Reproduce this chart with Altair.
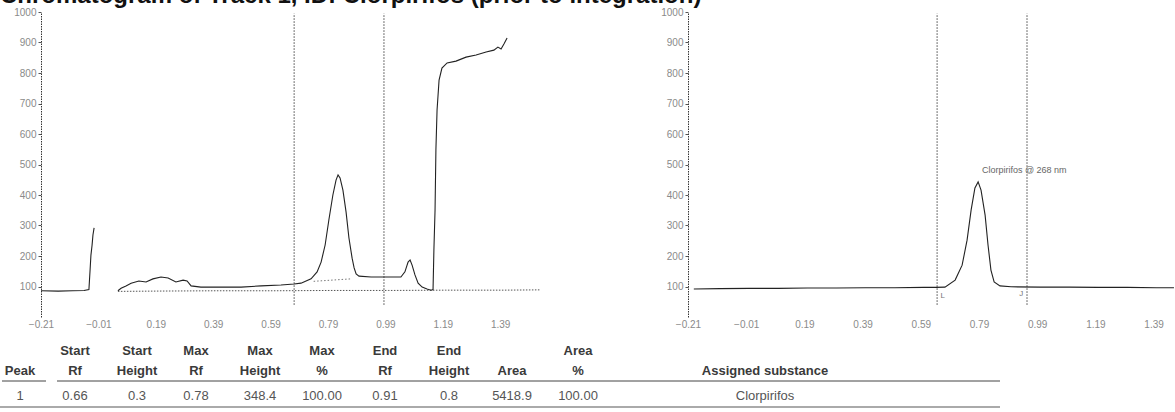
import altair as alt
import pandas as pd

# ---------------- data ----------------
TITLE = "Chromatogram of Track 1, ID: Clorpirifos (prior to integration)"

X_TICKS = [-0.21, -0.01, 0.19, 0.39, 0.59, 0.79, 0.99, 1.19, 1.39]
Y_TICKS = [100, 200, 300, 400, 500, 600, 700, 800, 900, 1000]

# left panel: raw scan, two segments (Rf, AU)
L_SEG1_RF = [-0.21, -0.15, -0.10, -0.06, -0.043, -0.039, -0.036, -0.032, -0.029, -0.025]
L_SEG1_AU = [86, 85, 86, 87, 90, 154, 203, 236, 269, 292]

L_SEG2_RF = [0.058, 0.069, 0.086, 0.104, 0.131, 0.156, 0.180, 0.208, 0.233, 0.260,
             0.285, 0.299, 0.313, 0.347, 0.417, 0.487, 0.557, 0.626, 0.672, 0.696,
             0.731, 0.752, 0.766, 0.780, 0.793, 0.807, 0.818, 0.825, 0.832, 0.842,
             0.853, 0.863, 0.874, 0.881, 0.888, 0.898, 0.940, 0.992, 1.044, 1.058,
             1.069, 1.076, 1.083, 1.093, 1.104, 1.118, 1.135, 1.149, 1.156, 1.159,
             1.163, 1.166, 1.170, 1.177, 1.187, 1.205, 1.236, 1.271, 1.306, 1.341,
             1.368, 1.382, 1.393, 1.403, 1.414]
L_SEG2_AU = [86, 94, 102, 111, 118, 115, 125, 131, 128, 115,
             121, 118, 102, 98, 98, 98, 102, 105, 108, 111,
             125, 148, 180, 236, 318, 400, 449, 466, 456, 416,
             344, 259, 193, 161, 141, 134, 131, 131, 131, 148,
             180, 187, 170, 138, 111, 98, 92, 88, 90, 220,
             351, 548, 679, 777, 816, 833, 839, 852, 859, 869,
             875, 885, 879, 895, 915]

# left panel: baseline (Rf, AU)
L_BASE_RF = [0.058, 0.20, 0.40, 0.60, 0.80, 1.00, 1.20, 1.40, 1.53]
L_BASE_AU = [84, 85, 86, 86, 87, 87, 88, 88, 89]

# left panel: peak integration baseline
L_PBASE_RF = [0.74, 0.87]
L_PBASE_AU = [117, 125]

# integration window lines (Rf)
L_LINES = [0.672, 0.985]
R_LINES = [0.646, 0.955]
R_MARKS = ["L", "J"]
R_MARK_RF = [0.665, 0.935]

# right panel: processed peak (Rf, AU)
R_RF = [-0.19, -0.10, 0.00, 0.10, 0.20, 0.30, 0.40, 0.50, 0.60, 0.64,
        0.673, 0.708, 0.732, 0.749, 0.763, 0.776, 0.787, 0.797, 0.811, 0.821,
        0.831, 0.842, 0.862, 0.90, 1.00, 1.10, 1.20, 1.30, 1.40, 1.46]
R_AU = [92, 93, 94, 94, 95, 95, 96, 96, 97, 97,
        98, 121, 170, 252, 351, 423, 443, 416, 334, 236,
        154, 115, 102, 99, 98, 98, 97, 97, 96, 96]

ANNOT_RF = [0.80]
ANNOT_AU = [482]
ANNOT_TXT = ["Clorpirifos @ 268 nm"]

# results table
H1 = ["", "Start", "Start", "Max", "Max", "Max", "End", "End", "", "Area", ""]
H2 = ["Peak", "Rf", "Height", "Rf", "Height", "%", "Rf", "Height", "Area", "%", "Assigned substance"]
VALS = ["1", "0.66", "0.3", "0.78", "348.4", "100.00", "0.91", "0.8", "5418.9", "100.00", "Clorpirifos"]

# ---------------- layout (pixels) ----------------
W, H = 1175, 412
Y_RANGE = [317, 12]
L_RANGE = [41, 546]
R_RANGE = [688, 1175]
COL_X = [20, 75, 137, 196, 260, 322, 385, 449, 512, 578, 765]
FONT = "Liberation Sans"

# ---------------- frames ----------------
seg = pd.concat([
    pd.DataFrame({"rf": L_SEG1_RF, "au": L_SEG1_AU, "seg": "a"}),
    pd.DataFrame({"rf": L_SEG2_RF, "au": L_SEG2_AU, "seg": "b"}),
])
lbase = pd.DataFrame({"rf": L_BASE_RF, "au": L_BASE_AU})
lpbase = pd.DataFrame({"rf": L_PBASE_RF, "au": L_PBASE_AU})
llines = pd.DataFrame({"rf": L_LINES, "y1": [40] * len(L_LINES), "y2": [995] * len(L_LINES)})
rlines = pd.DataFrame({"rf": R_LINES, "y1": [40] * len(R_LINES), "y2": [995] * len(R_LINES)})
rmarks = pd.DataFrame({"rf": R_MARK_RF, "au": [68, 76], "t": R_MARKS})
rtrace = pd.DataFrame({"rf": R_RF, "au": R_AU})
annot = pd.DataFrame({"rf": ANNOT_RF, "au": ANNOT_AU, "t": ANNOT_TXT})
table = pd.DataFrame({"idx": list(range(len(H2))), "h1": H1, "h2": H2, "v": VALS})


def xaxis():
    return alt.Axis(values=X_TICKS, format=".2f", orient="bottom", offset=-(H - Y_RANGE[0]),
                    domain=False, ticks=False, grid=False, title=None, labelPadding=2,
                    labelFontSize=10, labelColor="#8a8a8a", labelFont=FONT,
                    labelOverlap=False, labelFlush=False)


def yaxis(off):
    return alt.Axis(values=Y_TICKS, format="d", orient="left", offset=-off, grid=False, title=None,
                    domainColor="#333", domainDash=[1.5, 1], tickSize=3, tickColor="#555",
                    labelFontSize=10, labelColor="#8a8a8a", labelFont=FONT, labelPadding=2)


def panel(x_range, x_max, off):
    xs = alt.Scale(domain=[-0.21, x_max], range=x_range, nice=False, zero=False)
    ys = alt.Scale(domain=[0, 1000], range=Y_RANGE, nice=False, zero=False)
    X = alt.X("rf:Q", scale=xs, axis=xaxis())
    Y = alt.Y("au:Q", scale=ys, axis=yaxis(off))
    return X, Y, ys


# left panel
LX, LY, lys = panel(L_RANGE, -0.21 + (L_RANGE[1] - L_RANGE[0]) / 287.0, L_RANGE[0])
left = alt.layer(
    alt.Chart(lbase).mark_line(color="#555", strokeWidth=1, strokeDash=[1.5, 1.5]).encode(x=LX, y=LY),
    alt.Chart(lpbase).mark_line(color="#777", strokeWidth=1, strokeDash=[1.5, 2]).encode(x=LX, y=LY),
    alt.Chart(llines).mark_rule(color="#444", strokeWidth=1, strokeDash=[1.5, 1.5]).encode(
        x=LX, y=alt.Y("y1:Q", scale=lys, axis=yaxis(L_RANGE[0])), y2="y2:Q"),
    alt.Chart(seg).mark_line(color="#222", strokeWidth=1.1).encode(x=LX, y=LY, detail="seg:N"),
)

# right panel
RX, RY, rys = panel(R_RANGE, -0.21 + (R_RANGE[1] - R_RANGE[0]) / 291.0, R_RANGE[0])
right = alt.layer(
    alt.Chart(rlines).mark_rule(color="#444", strokeWidth=1, strokeDash=[1.5, 1.5]).encode(
        x=RX, y=alt.Y("y1:Q", scale=rys, axis=yaxis(R_RANGE[0])), y2="y2:Q"),
    alt.Chart(rtrace).mark_line(color="#222", strokeWidth=1.1).encode(x=RX, y=RY),
    alt.Chart(annot).mark_text(align="left", baseline="middle", fontSize=9, color="#666",
                               font=FONT).encode(x=RX, y=RY, text="t:N"),
    alt.Chart(rmarks).mark_text(align="center", baseline="middle", fontSize=8, color="#777",
                                font=FONT).encode(x=RX, y=RY, text="t:N"),
)

# table
TX = alt.X("idx:Q", scale=alt.Scale(domain=list(range(len(COL_X))), range=COL_X), axis=None)
tab = alt.layer(
    alt.Chart(table).mark_text(align="center", baseline="middle", fontSize=13, fontWeight="bold",
                               color="#3a3a3a", font=FONT).encode(x=TX, y=alt.value(351), text="h1:N"),
    alt.Chart(table).mark_text(align="center", baseline="middle", fontSize=13, fontWeight="bold",
                               color="#3a3a3a", font=FONT).encode(x=TX, y=alt.value(371), text="h2:N"),
    alt.Chart(table).mark_text(align="center", baseline="middle", fontSize=13,
                               color="#555", font=FONT).encode(x=TX, y=alt.value(396), text="v:N"),
    alt.Chart(pd.DataFrame({"a": [0]})).mark_rule(color="#444", strokeWidth=1).encode(
        x=alt.value(2), x2=alt.value(46), y=alt.value(381)),
    alt.Chart(pd.DataFrame({"a": [0]})).mark_rule(color="#444", strokeWidth=1).encode(
        x=alt.value(57), x2=alt.value(1000), y=alt.value(381)),
    alt.Chart(pd.DataFrame({"a": [0]})).mark_rule(color="#aaa", strokeWidth=2).encode(
        x=alt.value(0), x2=alt.value(1000), y=alt.value(407)),
)

title = alt.Chart(pd.DataFrame({"t": [TITLE]})).mark_text(
    align="left", baseline="alphabetic", fontSize=24, fontWeight="bold", color="#111", font=FONT
).encode(x=alt.value(0), y=alt.value(3), text="t:N")

chart = alt.layer(title, left, right, tab).resolve_scale(
    x="independent", y="independent"
).properties(
    width=W, height=H, padding=0, autosize=alt.AutoSizeParams(type="none"), background="white"
).configure_view(stroke=None)

chart.save("out.html", embed_options={"renderer": "svg", "actions": False})
